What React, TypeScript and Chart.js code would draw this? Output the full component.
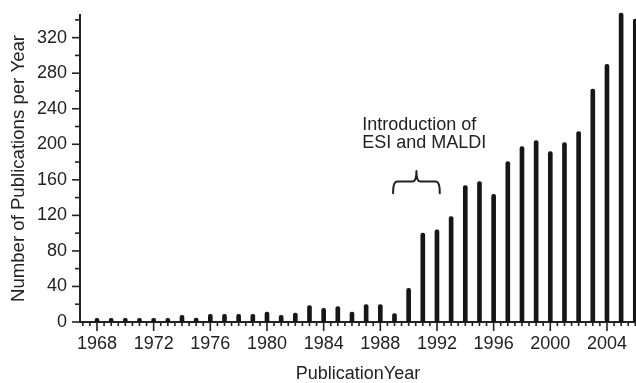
import React, { useEffect, useRef } from 'react';
import { Chart, registerables } from 'chart.js';

Chart.register(...registerables);

const years = [
  1968, 1969, 1970, 1971, 1972, 1973, 1974, 1975, 1976, 1977,
  1978, 1979, 1980, 1981, 1982, 1983, 1984, 1985, 1986, 1987,
  1988, 1989, 1990, 1991, 1992, 1993, 1994, 1995, 1996, 1997,
  1998, 1999, 2000, 2001, 2002, 2003, 2004, 2005, 2006,
];
const publications = [
  4, 4, 4, 4, 4, 4, 7.5, 4.5, 8.7, 8.7,
  8.7, 8.7, 11.3, 7.5, 10, 18.4, 15.4, 17.3, 11.3, 19.5,
  19.5, 9.4, 38, 100, 103.6, 118.6, 153.5, 158, 143.8, 180.5,
  197.4, 204.2, 191.8, 202, 214.3, 262, 290, 347.6, 340.9,
];
const yTickLabels = [0, 40, 80, 120, 160, 200, 240, 280, 320];
const xTickLabels = [1968, 1972, 1976, 1980, 1984, 1988, 1992, 1996, 2000, 2004];
const annotationLines = ['Introduction of', 'ESI and MALDI'];
const annotationX = 1986.72;
const annotationLineValues = [216, 196];
const braceStart = 1988.9;
const braceEnd = 1992.2;
const braceEndValue = 145;
const braceArmValue = 158;
const braceTipValue = 170;

const FONT = '"Liberation Sans", Arial, Helvetica, sans-serif';
const INK = '#222';

const axisTicks = {
  id: 'axisTicks',
  afterDatasetsDraw(chart: any) {
    const { ctx, chartArea, scales } = chart;
    const x = scales.x;
    const y = scales.y;
    ctx.save();
    ctx.strokeStyle = INK;
    ctx.lineWidth = 1.6;
    for (let v = 0; v <= 340; v += 20) {
      const py = y.getPixelForValue(v);
      const len = v % 40 === 0 ? 8 : 5;
      ctx.beginPath();
      ctx.moveTo(chartArea.left - len, py);
      ctx.lineTo(chartArea.left, py);
      ctx.stroke();
    }
    for (let v = 1967; v <= 2006; v += 0.5) {
      const px = x.getPixelForValue(v);
      if (px < chartArea.left + 2) continue;
      const len = v % 4 === 0 ? 9 : 4;
      ctx.beginPath();
      ctx.moveTo(px, chartArea.bottom);
      ctx.lineTo(px, chartArea.bottom + len);
      ctx.stroke();
    }
    ctx.restore();
  },
};

const annotation = {
  id: 'annotation',
  afterDatasetsDraw(chart: any) {
    const { ctx, scales } = chart;
    const x = scales.x;
    const y = scales.y;
    ctx.save();
    ctx.fillStyle = INK;
    ctx.font = `18px ${FONT}`;
    ctx.textAlign = 'left';
    ctx.textBaseline = 'alphabetic';
    annotationLines.forEach((line, i) => {
      ctx.fillText(line, x.getPixelForValue(annotationX), y.getPixelForValue(annotationLineValues[i]));
    });
    const x1 = x.getPixelForValue(braceStart);
    const x2 = x.getPixelForValue(braceEnd);
    const xm = (x1 + x2) / 2;
    const yEnd = y.getPixelForValue(braceEndValue);
    const yArm = y.getPixelForValue(braceArmValue);
    const yTip = y.getPixelForValue(braceTipValue);
    const r = 4;
    ctx.strokeStyle = INK;
    ctx.lineWidth = 2;
    ctx.lineCap = 'round';
    ctx.lineJoin = 'round';
    ctx.beginPath();
    ctx.moveTo(x1, yEnd);
    ctx.quadraticCurveTo(x1, yArm, x1 + r, yArm);
    ctx.lineTo(xm - r, yArm);
    ctx.quadraticCurveTo(xm, yArm, xm, yTip);
    ctx.quadraticCurveTo(xm, yArm, xm + r, yArm);
    ctx.lineTo(x2 - r, yArm);
    ctx.quadraticCurveTo(x2, yArm, x2, yEnd);
    ctx.stroke();
    ctx.restore();
  },
};

export default function App() {
  const canvasRef = useRef<HTMLCanvasElement | null>(null);

  useEffect(() => {
    if (!canvasRef.current) return;
    const chart = new Chart(canvasRef.current, {
      type: 'bar',
      data: {
        datasets: [
          {
            data: years.map((yr, i) => ({ x: yr, y: publications[i] })),
            backgroundColor: '#161616',
            borderWidth: 0,
            barThickness: 4,
            borderRadius: 2,
            borderSkipped: false,
            clip: false as any,
          },
        ],
      },
      options: {
        animation: false,
        responsive: true,
        maintainAspectRatio: false,
        layout: { padding: { top: 15, right: 0, left: 0, bottom: 0 } },
        plugins: { legend: { display: false }, tooltip: { enabled: false } },
        scales: {
          x: {
            type: 'linear',
            min: 1966.8,
            max: 2006.05,
            offset: false,
            grid: { display: false, drawTicks: false, offset: false },
            border: { display: true, color: INK, width: 2 },
            ticks: {
              font: { family: FONT, size: 18 },
              color: INK,
              padding: 11,
              maxRotation: 0,
              autoSkip: false,
              callback: (v: any) => String(v),
            },
            afterBuildTicks: (s: any) => {
              s.ticks = xTickLabels.map((v) => ({ value: v }));
            },
            afterFit: (s: any) => {
              s.height = 61;
              s.paddingLeft = 0;
              s.paddingRight = 0;
            },
            title: {
              display: true,
              text: 'PublicationYear',
              font: { family: FONT, size: 18 },
              color: INK,
              padding: { top: 0, bottom: -2 },
            },
          },
          y: {
            type: 'linear',
            min: 0,
            max: 345.5,
            grid: { display: false, drawTicks: false },
            border: { display: true, color: INK, width: 2 },
            ticks: {
              font: { family: FONT, size: 18 },
              color: INK,
              padding: 13,
              callback: (v: any) => String(v),
            },
            afterBuildTicks: (s: any) => {
              s.ticks = yTickLabels.map((v) => ({ value: v }));
            },
            afterFit: (s: any) => {
              s.width = 80;
              s.paddingTop = 0;
              s.paddingBottom = 0;
            },
            title: {
              display: true,
              text: 'Number of Publications per Year',
              font: { family: FONT, size: 18.6 },
              color: INK,
              padding: { top: 7.5, bottom: 0 },
            },
          },
        },
      },
      plugins: [axisTicks, annotation],
    });
    return () => chart.destroy();
  }, []);

  return (
    <div style={{ position: 'fixed', left: 0, top: 0, width: 636, height: 383, background: '#fff' }}>
      <canvas ref={canvasRef} />
    </div>
  );
}
